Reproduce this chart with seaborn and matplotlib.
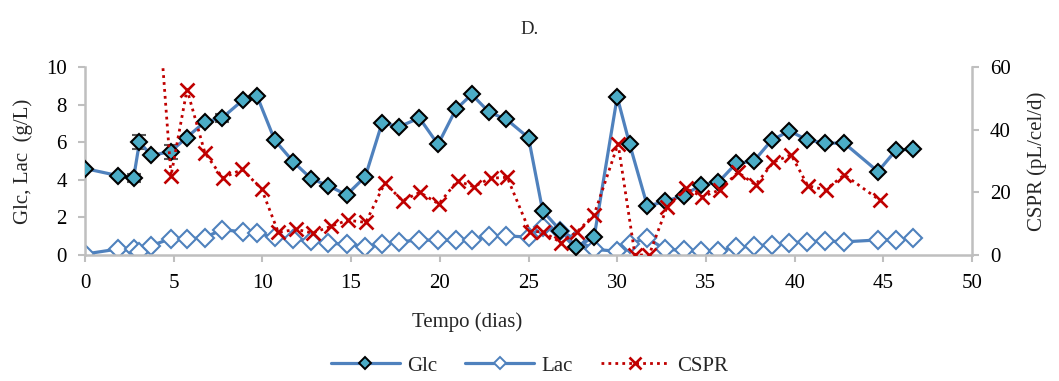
import matplotlib
matplotlib.use("Agg")
import matplotlib.pyplot as plt
import seaborn as sns
import numpy as np
from matplotlib.lines import Line2D

# ---- data ----
days = [0, 1.87, 2.74, 3.07, 3.74, 4.83, 5.73, 6.74, 7.74, 8.9, 9.7, 10.7, 11.75, 12.75,
        13.7, 14.75, 15.8, 16.75, 17.7, 18.85, 19.9, 20.9, 21.8, 22.8, 23.75, 25.0, 25.8,
        26.8, 27.7, 28.7, 30.0, 30.7, 31.7, 32.7, 33.75, 34.7, 35.7, 36.7, 37.7, 38.7,
        39.7, 40.7, 41.7, 42.8, 44.7, 45.7, 46.7]
glc = [4.6, 4.22, 4.1, 6.0, 5.3, 5.5, 6.25, 7.07, 7.3, 8.24, 8.45, 6.1, 4.95, 4.06,
       3.69, 3.2, 4.17, 7.04, 6.82, 7.29, 5.88, 7.74, 8.54, 7.58, 7.22, 6.24, 2.35,
       1.3, 0.45, 0.95, 8.41, 5.9, 2.6, 2.85, 3.16, 3.72, 3.87, 4.87, 4.99, 6.1,
       6.6, 6.13, 5.95, 5.95, 4.44, 5.56, 5.65]
glc_err = [0, 0, 0.2, 0.38, 0, 0.37, 0, 0, 0.2, 0, 0, 0, 0, 0,
           0, 0, 0, 0, 0, 0, 0, 0, 0, 0, 0, 0, 0,
           0, 0, 0, 0, 0, 0, 0, 0, 0, 0, 0, 0, 0,
           0, 0, 0, 0, 0, 0, 0]
lac = [0.05, 0.32, 0.3, 0.15, 0.5, 0.87, 0.85, 0.93, 1.35, 1.23, 1.15, 0.95, 0.85, 0.75,
       0.62, 0.58, 0.45, 0.57, 0.7, 0.8, 0.78, 0.78, 0.78, 1.02, 1.02, 0.95, 1.5,
       1.3, 0.8, 0.3, 0.2, 0.6, 0.9, 0.3, 0.25, 0.2, 0.22, 0.4, 0.48, 0.55,
       0.65, 0.7, 0.75, 0.7, 0.8, 0.82, 0.88]
cspr_days = [3.74, 4.85, 5.75, 6.76, 7.76, 8.86, 9.95, 10.9, 11.9, 12.83, 13.84, 14.8,
             15.83, 16.9, 17.9, 18.87, 19.94, 21.0, 21.9, 22.86, 23.8, 25.07, 25.8,
             26.86, 27.76, 28.7, 30.05, 31.0, 31.8, 32.8, 33.86, 34.8, 35.8, 36.8,
             37.8, 38.8, 39.8, 40.75, 41.75, 42.8, 44.8]
cspr = [109, 25.3, 52.8, 32.6, 24.6, 27.3, 21.1, 7.2, 8.2, 7.0, 9.1, 11.1,
        10.4, 23.0, 17.3, 20.0, 16.3, 23.7, 21.8, 24.5, 24.8, 7.5, 7.4,
        3.9, 7.5, 12.9, 35.5, 0.0, 0.0, 15.2, 21.3, 18.6, 20.8, 26.4,
        22.4, 29.6, 32.0, 22.1, 20.8, 25.6, 17.5]

BLUE = "#4f81bd"
TEAL = "#4bacc6"
RED = "#c00000"
GRAY = "#bfbfbf"
FS = 15

sns.set_theme(style="white")
plt.rcParams["font.family"] = ["Liberation Serif", "DejaVu Serif"]
plt.rcParams["font.size"] = FS

fig = plt.figure(figsize=(10.59, 3.81), dpi=100)
ax = fig.add_axes([85 / 1059, 1 - 255 / 381, 887 / 1059, 188 / 381])
ax2 = ax.twinx()

LW = 2.3
# Lac (under)
sns.lineplot(x=days, y=lac, ax=ax, color=BLUE, lw=LW, marker="D", markersize=9,
             markerfacecolor="white", markeredgecolor=BLUE, markeredgewidth=1.5,
             sort=False, zorder=2)
# Glc error bars
ax.errorbar(days, glc, yerr=glc_err, fmt="none", ecolor="#595959", elinewidth=1.2,
            capsize=5, capthick=1.5, zorder=3)
# Glc
sns.lineplot(x=days, y=glc, ax=ax, color=BLUE, lw=LW, marker="D", markersize=8,
             markerfacecolor=TEAL, markeredgecolor="black", markeredgewidth=1.5,
             sort=False, zorder=4)
# CSPR
sns.lineplot(x=cspr_days, y=cspr, ax=ax2, color=RED, lw=2.0, linestyle=(0, (1, 1.5)),
             marker="x", markersize=9.5, markeredgewidth=1.9, markeredgecolor=RED,
             sort=False)

ax.set_xlim(0, 50)
ax.set_ylim(0, 10)
ax2.set_ylim(0, 60)
ax.set_xticks(range(0, 51, 5))
ax.set_yticks(range(0, 11, 2))
ax2.set_yticks(range(0, 61, 20))

for a in (ax, ax2):
    for s in a.spines.values():
        s.set_color(GRAY)
        s.set_linewidth(1.8)
    a.spines["top"].set_visible(False)
    a.tick_params(colors="black", labelsize=FS)
ax.spines["right"].set_visible(False)
ax2.spines["left"].set_visible(False)
ax2.spines["bottom"].set_visible(False)
ax.tick_params(axis="x", which="major", length=5, width=1.5, color=GRAY, direction="out",
               bottom=True, pad=8.5)
ax.tick_params(axis="y", which="major", length=5, width=1.5, color=GRAY, direction="out",
               left=True, pad=8)
ax2.tick_params(axis="y", which="major", length=5, width=1.5, color=GRAY, direction="out",
                right=True, pad=8)
ax.grid(False)
ax2.grid(False)

ax.set_xlabel("Tempo (dias)", fontsize=FS)
ax.xaxis.set_label_coords(0.431, -0.305)
ax.set_ylabel("Glc, Lac  (g/L)", fontsize=FS)
ax.yaxis.set_label_coords(-0.059, 0.5)
ax2.set_ylabel("CSPR (pL/cel/d)", fontsize=FS)
ax2.yaxis.set_label_coords(1.062, 0.5)

fig.text(0.5, 0.922, "D.", ha="center", va="center", fontsize=13.5)

handles = [
    Line2D([], [], color=BLUE, lw=LW, marker="D", markersize=6.5, markerfacecolor=TEAL,
           markeredgecolor="black", markeredgewidth=1.4),
    Line2D([], [], color=BLUE, lw=LW, marker="D", markersize=6.5, markerfacecolor="white",
           markeredgecolor=BLUE, markeredgewidth=1.4),
    Line2D([], [], color=RED, lw=2.0, linestyle=(0, (1, 1.5)), marker="x", markersize=8,
           markeredgewidth=1.9, markeredgecolor=RED),
]
fig.legend(handles, ["Glc", "Lac", "CSPR"], loc="center", bbox_to_anchor=(0.5, 0.04),
           ncol=3, frameon=False, fontsize=FS, handlelength=3.3, columnspacing=1.35,
           handletextpad=0.35)

fig.savefig("out.png", dpi=100)
